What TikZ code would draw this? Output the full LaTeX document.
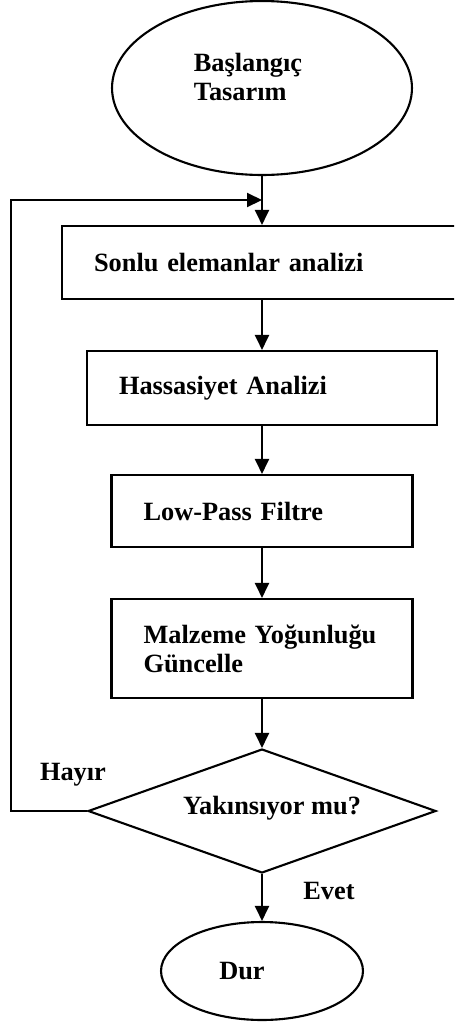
\documentclass[tikz,border=0pt]{standalone}
\usepackage{fontspec}
\setmainfont{Liberation Serif}
\usetikzlibrary{arrows.meta}
\usetikzlibrary{shapes.geometric}

\tikzset{
  flowtext/.style={font=\fontsize{15}{16.4}\selectfont\bfseries},
  procbox/.style={draw,rectangle,flowtext,align=left,inner xsep=0.64cm,inner ysep=0pt},
  termnode/.style={draw,ellipse,flowtext,inner sep=0pt},
  decnode/.style={draw,diamond,flowtext,inner sep=0pt}
}

\begin{document}
\begin{tikzpicture}[x=0.02cm,y=-0.02cm,line width=1.2pt,>={Triangle[length=0.3cm,width=0.28cm]}]
\useasboundingbox (0,0) rectangle (454,1028);
\clip (0,0) rectangle (454,1028);

\node[termnode,minimum width=6cm,minimum height=3.48cm,
  label={[flowtext,align=left,xshift=-0.28cm,yshift=0.22cm]center:Başlangıç\\Tasarım}](start) at (262,88) {};
\node[procbox,text width=6.72cm,minimum height=1.46cm](fem) at (262,262.5) {Sonlu elemanlar analizi};
\node[procbox,text width=5.72cm,minimum height=1.48cm](sens) at (262,388) {Hassasiyet Analizi};
\node[procbox,text width=4.74cm,minimum height=1.44cm](filt) at (262,511) {Low-Pass Filtre};
\node[procbox,text width=4.74cm,minimum height=1.98cm](upd) at (262,648.5) {Malzeme Yoğunluğu\\Güncelle};
\node[decnode,minimum width=6.96cm,minimum height=2.48cm,
  label={[flowtext,xshift=0.2cm,yshift=0.06cm]center:Yakınsıyor mu?}](conv) at (262,811) {};
\node[termnode,minimum width=4.04cm,minimum height=1.96cm,
  label={[flowtext,xshift=-0.4cm]center:Dur}](stop) at (262,971) {};

\node[flowtext](no) at (73,775) {Hayır};
\node[flowtext](yes) at (329,891) {Evet};
\coordinate (join) at (262,200);

\draw[->] (start) -- (fem);
\draw[->] (fem) -- (sens);
\draw[->] (sens) -- (filt);
\draw[->] (filt) -- (upd);
\draw[->] (upd) -- (conv);
\draw[->] (conv) -- (stop);
\draw[->] (conv.west) -- ++(-76,0) |- (join);
\end{tikzpicture}
\end{document}
